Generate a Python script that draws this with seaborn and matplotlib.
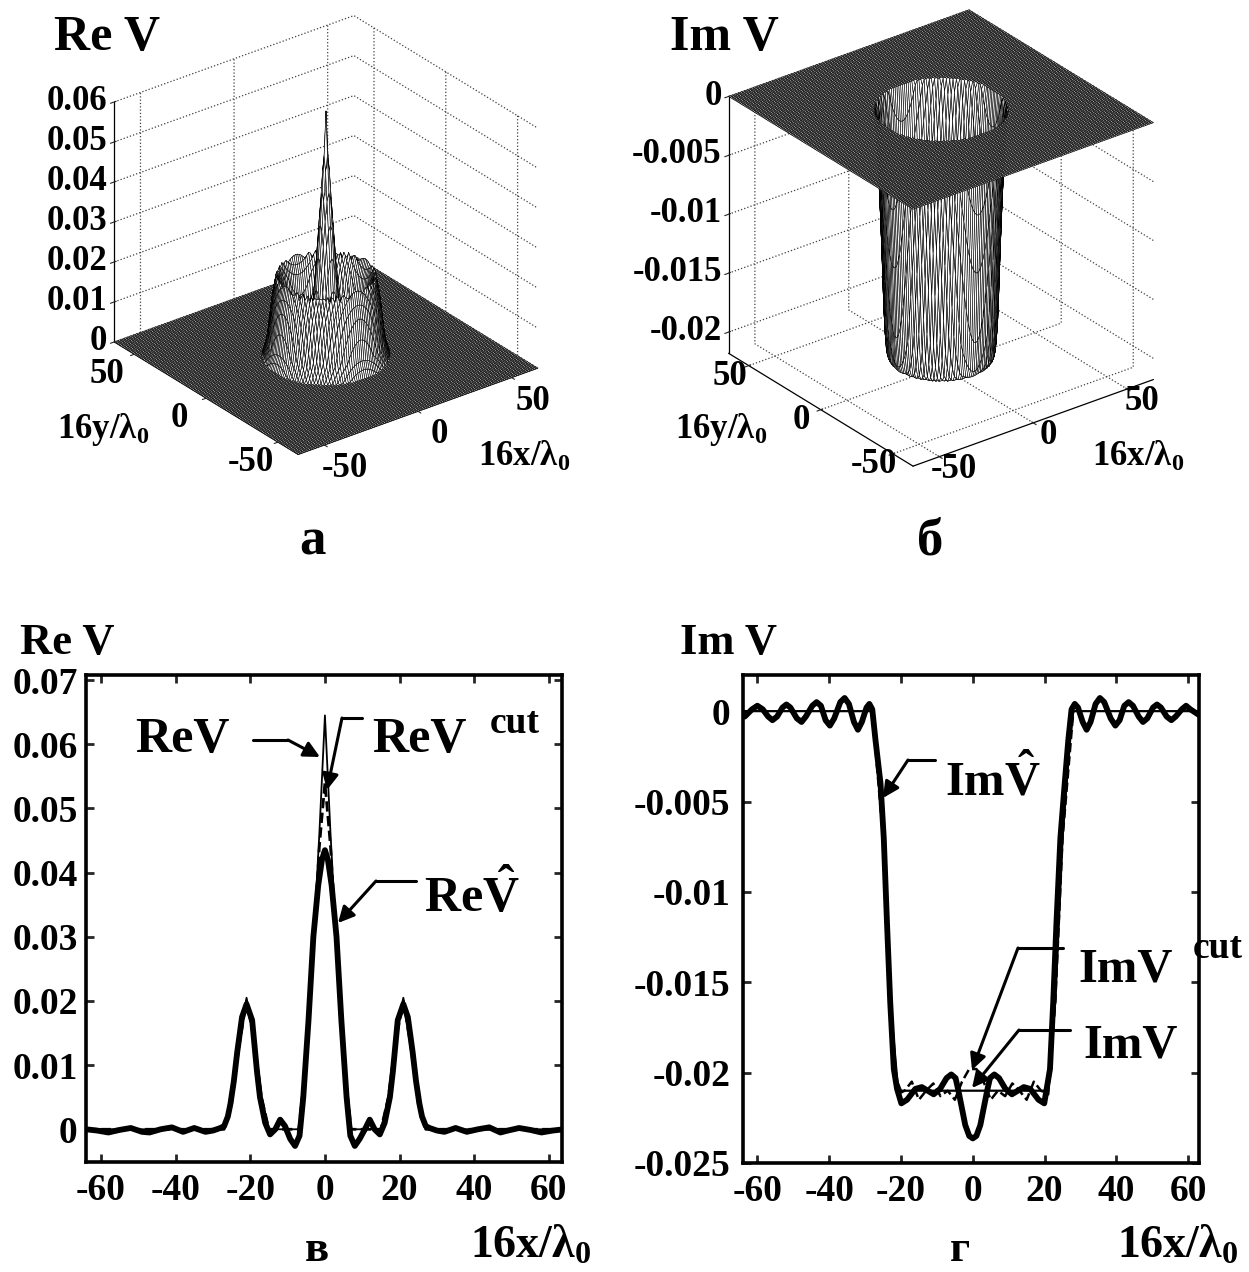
import numpy as np
import matplotlib
matplotlib.use("Agg")
import matplotlib.pyplot as plt
from matplotlib.lines import Line2D
from matplotlib.patches import FancyArrowPatch
import seaborn as sns

W, H = 1249, 1272

# --- curve data ---
re_hat_x = [-64, -61, -58, -55, -52, -49, -47, -44, -41, -38, -35, -32, -30, -28, -27, -26, -25.3, -24.4, -23.5, -22.2,
            -21, -19.5, -18.2, -17.4, -16, -14.7, -13.3, -12, -10.7, -9.3, -8, -6.8, -5.8, -4.4, -3.1, -1.8, -0.8, 0,
            0.8, 1.8, 3.1, 4.4, 5.8, 6.8, 8, 9.3, 10.7, 12, 13.3, 14.7, 16, 17.4, 18.2, 19.5,
            21, 22.2, 23.5, 24.4, 25.3, 26, 27, 28, 30, 32, 35, 38, 41, 44, 47, 49, 52, 55, 58, 61, 64]
re_hat_y = [0.0, -0.0002, -0.0005, -0.0001, 0.0002, -0.0004, -0.0005, 0.0, 0.0003, -0.0004, 0.0002, -0.0004, -0.0002,
            0.0002, 0.0005, 0.002, 0.004, 0.0075, 0.012, 0.0175,
            0.0195, 0.017, 0.009, 0.005, 0.001, -0.0008, 0.0, 0.0015, 0.0005, -0.0015, -0.0026, -0.001, 0.005, 0.017,
            0.03, 0.038, 0.042, 0.0435,
            0.042, 0.038, 0.03, 0.017, 0.005, -0.001, -0.0026, -0.0015, 0.0, 0.0015, 0.0, -0.0008, 0.001, 0.005, 0.009,
            0.017, 0.0195, 0.0175, 0.012, 0.0075, 0.004, 0.002, 0.0005, 0.0002, -0.0002, -0.0004, 0.0002, -0.0004, 0.0,
            0.0003, -0.0005, -0.0002, 0.0002, -0.0001, -0.0005, -0.0002, 0.0]

re_thin_x = [-64, -27, -25, -23, -21, -19, -17, -15, -7, -5, -3, -1.5, 0, 1.5, 3, 5, 7, 15, 17, 19, 21, 23, 25, 27, 64]
re_thin_y = [0, 0, 0.004, 0.014, 0.0205, 0.015, 0.005, 0, 0, 0.012, 0.03, 0.046, 0.0645,
             0.046, 0.03, 0.012, 0, 0, 0.005, 0.015, 0.0205, 0.014, 0.004, 0, 0]

re_cut_x = [-64, -27, -25, -23, -21, -19, -17, -15, -7, -5, -3, -1.5, 0, 1.5, 3, 5, 7, 15, 17, 19, 21, 23, 25, 27, 64]
re_cut_y = [0, 0, 0.004, 0.013, 0.02, 0.014, 0.005, 0, 0, 0.011, 0.029, 0.044, 0.054,
            0.044, 0.029, 0.011, 0, 0, 0.005, 0.014, 0.02, 0.013, 0.004, 0, 0]

im_hat_x = [-63.5, -61.5, -60, -58.5, -57, -55.8, -54.5, -53, -51.9, -50.8, -49, -47.7, -46.5, -44.7, -43.5, -42.3,
            -41, -39.8, -38.6, -36.9, -35.7, -34.5, -33.1, -32, -30.9, -29.6, -28.8, -28, -27.1, -25.7, -24.8, -23.9,
            -23, -22, -21.1, -19.9, -18.3, -16, -14.2, -10.9, -9.1, -7.3, -6, -4.8, -4, -2.1, -1, 0,
            1, 2.1, 4, 4.8, 6, 7.3, 9.1, 10.9, 14.2, 16, 18.3, 19.9, 21.5, 22.4, 23.3, 24.4, 25.6, 26.6,
            27.5, 28.4, 29.3, 30.6, 31.7, 32.8, 34.2, 35.4, 36.6, 38.4, 39.7, 40.9, 42.2, 43.4, 44.6, 46.2, 47.4, 48.6,
            50.2, 51.3, 52.4, 54, 55.3, 56.5, 58.2, 59.4, 60.6, 62.9]
im_hat_y = [-0.0003, 0.0001, 0.0003, 0.0001, -0.0003, -0.0005, -0.0003, 0.0002, 0.00037, 0.0002, -0.0004, -0.0006,
            -0.0003, 0.0003, 0.0005, 0.0003, -0.0005, -0.0008, -0.0004, 0.0005, 0.00073, 0.0004, -0.0006, -0.00103,
            -0.0006, 0.0002, 0.0004, 0.0001, -0.0016, -0.004, -0.007, -0.0117, -0.0161, -0.0198, -0.0209, -0.0217,
            -0.0215, -0.0209, -0.0208, -0.0212, -0.0209, -0.0203, -0.0201, -0.0203, -0.021, -0.0229, -0.0235, -0.02364,
            -0.0235, -0.0229, -0.021, -0.0203, -0.0201, -0.0203, -0.0209, -0.0212, -0.0208, -0.0209, -0.0215, -0.0217,
            -0.0198, -0.0161, -0.0117, -0.007, -0.004, -0.0016, 0.0001, 0.0004, 0.0002, -0.0006, -0.00103, -0.0006,
            0.0004, 0.00073, 0.0005, -0.0004, -0.0008, -0.0005, 0.0003, 0.0005, 0.0003, -0.0003, -0.0006, -0.0004,
            0.0002, 0.00037, 0.0002, -0.0003, -0.0005, -0.0003, 0.0001, 0.0003, 0.0001, -0.0002]

im_thin_x = [-64, -28, -27, -25, -23, -21, -20, 20, 21, 23, 25, 27, 28, 64]
im_thin_y = [0, 0, -0.0016, -0.007, -0.016, -0.0205, -0.021, -0.021, -0.0205, -0.016, -0.007, -0.0016, 0, 0]

im_cut_x = [-28, -25, -23, -21, -19, -17, -15, -13, -11, -9, -7, -5, -3, -1, 1, 3, 5, 7, 9, 11, 13, 15, 17, 19, 21,
            23, 25, 28]
im_cut_y = [0, -0.007, -0.016, -0.0212, -0.021, -0.0205, -0.0215, -0.021, -0.0206, -0.0213, -0.021, -0.0215, -0.0205,
            -0.0198, -0.0198, -0.0205, -0.0215, -0.021, -0.0213, -0.0206, -0.021, -0.0215, -0.0205, -0.021, -0.0212,
            -0.016, -0.007, 0]

# radial profiles of the two surfaces
re_radial_r = [0, 1, 2, 3, 4, 5, 7, 8, 15, 17, 19, 21, 23, 25, 27, 64]
re_radial_z = [0.061, 0.05, 0.041, 0.033, 0.025, 0.017, 0.003, 0, 0, 0.006, 0.016, 0.0205, 0.014, 0.004, 0, 0]
im_radial_r = [0, 22, 23, 24, 25, 26, 27, 28, 64]
im_radial_z = [-0.021, -0.021, -0.0205, -0.018, -0.012, -0.007, -0.003, 0, 0]

x_ticks_2d = [-60, -40, -20, 0, 20, 40, 60]
re_ticks = [0, 0.01, 0.02, 0.03, 0.04, 0.05, 0.06, 0.07]
im_ticks = [0, -0.005, -0.01, -0.015, -0.02, -0.025]
re_tick_labels = ["0", "0.01", "0.02", "0.03", "0.04", "0.05", "0.06", "0.07"]
im_tick_labels = ["0", "-0.005", "-0.01", "-0.015", "-0.02", "-0.025"]
re_z_ticks = [0, 0.01, 0.02, 0.03, 0.04, 0.05, 0.06]
re_z_labels = ["0", "0.01", "0.02", "0.03", "0.04", "0.05", "0.06"]
im_z_ticks = [0, -0.005, -0.01, -0.015, -0.02]
im_z_labels = ["0", "-0.005", "-0.01", "-0.015", "-0.02"]

sns.set_style("white")
plt.rcParams["font.family"] = ["Liberation Serif", "DejaVu Serif"]
plt.rcParams["font.weight"] = "bold"
plt.rcParams["axes.unicode_minus"] = False
plt.rcParams["mathtext.fontset"] = "custom"
plt.rcParams["mathtext.rm"] = "Liberation Serif:bold"
plt.rcParams["mathtext.default"] = "rm"
plt.rcParams["xtick.labelcolor"] = "k"
plt.rcParams["ytick.labelcolor"] = "k"
plt.rcParams["lines.solid_joinstyle"] = "round"

fig = plt.figure(figsize=(W / 100, H / 100), dpi=100)


def px(x, y):
    return x / W, 1 - y / H


def label(x, y, s, size, ha="left"):
    # x, y are the pixel position of the text baseline
    fig.text(*px(x, y), s, fontsize=size, ha=ha, va="baseline", color="k")


def arrow(p0, p1, p2):
    fig.add_artist(Line2D([p0[0] / W, p1[0] / W], [1 - p0[1] / H, 1 - p1[1] / H], color="k", lw=2.2))
    fig.add_artist(FancyArrowPatch(px(*p1), px(*p2), transform=fig.transFigure, arrowstyle="-|>", mutation_scale=24,
                                   color="k", lw=2.2, shrinkA=0, shrinkB=0))


def axes_2d(left, right, top, bottom, y_pad):
    ax = fig.add_axes([left / W, 1 - bottom / H, (right - left) / W, (bottom - top) / H])
    for s in ax.spines.values():
        s.set_visible(True)
        s.set_linewidth(2.6)
        s.set_color("k")
    ax.tick_params(direction="in", top=True, right=True, left=True, bottom=True, length=6, width=2, labelsize=27)
    ax.tick_params(axis="x", pad=8)
    ax.tick_params(axis="y", pad=y_pad)
    ax.set_xticks(x_ticks_2d)
    return ax


def surface_3d(cx, cy, side, ratio, zlim, radial_r, radial_z, zticks, zlabels, xy_pad):
    # cx, cy: pixel position of the centre of the plot box
    aspect = np.array([1, 1, ratio])
    world = 1.8294640721620434 * 25 / 24 / np.linalg.norm(aspect)
    size = side * 1.85 / world
    left = cx - 0.95 / 1.85 * size
    bottom = cy + 0.95 / 1.85 * size
    ax = fig.add_axes([left / W, 1 - bottom / H, size / W, size / H], projection="3d")
    ax.patch.set_alpha(0)
    ax.set_proj_type("ortho")
    ax.view_init(elev=28, azim=-127.5)
    ax.set_box_aspect(aspect)

    grid = np.arange(-64, 65, 1.0)
    xx, yy = np.meshgrid(grid, grid)
    zz = np.interp(np.hypot(xx, yy), radial_r, radial_z)
    ax.plot_surface(xx, yy, zz, rstride=1, cstride=1, color="white", edgecolor="k", linewidth=0.42, shade=False,
                    antialiased=True)

    ax.set_xlim(-64, 64)
    ax.set_ylim(-64, 64)
    ax.set_zlim(*zlim)
    ax.set_xticks([-50, 0, 50])
    ax.set_yticks([-50, 0, 50])
    ax.set_zticks(zticks)
    ax.set_zticklabels(zlabels)
    ax.tick_params(labelsize=25)
    ax.tick_params(axis="x", pad=xy_pad)
    ax.tick_params(axis="y", pad=xy_pad)
    ax.tick_params(axis="z", pad=-5)
    for t in ax.xaxis.get_major_ticks() + ax.yaxis.get_major_ticks():
        t.label1.set_va("bottom")
    for t in ax.zaxis.get_major_ticks():
        t.label1.set_va("center")
        t.label1.set_ha("right")
    for axis in (ax.xaxis, ax.yaxis, ax.zaxis):
        axis.set_pane_color((1, 1, 1, 0))
        axis.pane.set_edgecolor("none")
        axis._axinfo["grid"].update(color="0.25", linestyle=":", linewidth=0.9)
        axis.line.set_color("k")
        axis.line.set_linewidth(0.9)
    return ax


# --- top panels ---
surface_3d(326, 235, 302, 0.90, (0, 0.06), re_radial_r, re_radial_z, re_z_ticks, re_z_labels, 13)
surface_3d(941, 238, 303, 0.96, (-0.0218, 0), im_radial_r, im_radial_z, im_z_ticks, im_z_labels, 7)

# --- bottom left ---
ax = axes_2d(86, 562, 675, 1162, 6)
sns.lineplot(x=re_thin_x, y=re_thin_y, ax=ax, color="k", linewidth=1.3, errorbar=None)
sns.lineplot(x=re_cut_x, y=re_cut_y, ax=ax, color="k", linewidth=2.0, linestyle="--", errorbar=None)
sns.lineplot(x=re_hat_x, y=re_hat_y, ax=ax, color="k", linewidth=4.2, errorbar=None)
ax.set_xlim(-64, 63.5)
ax.set_ylim(-0.0051, 0.0708)
ax.set_yticks(re_ticks)
ax.set_yticklabels(re_tick_labels)

# --- bottom right ---
ax = axes_2d(743, 1199, 675, 1163, 9)
sns.lineplot(x=im_thin_x, y=im_thin_y, ax=ax, color="k", linewidth=1.6, errorbar=None)
sns.lineplot(x=im_cut_x, y=im_cut_y, ax=ax, color="k", linewidth=1.8, linestyle="--", errorbar=None)
sns.lineplot(x=im_hat_x, y=im_hat_y, ax=ax, color="k", linewidth=4.2, errorbar=None)
ax.set_xlim(-64, 63)
ax.set_ylim(-0.025, 0.002)
ax.set_yticks(im_ticks)
ax.set_yticklabels(im_tick_labels)

# --- text ---
label(54, 50, "Re V", 36)
label(670, 50, "Im V", 36)
label(57, 438, "16y/λ$_0$", 25)
label(478, 466, "16x/λ$_0$", 25)
label(675, 438, "16y/λ$_0$", 25)
label(1092, 466, "16x/λ$_0$", 25)
label(312, 554, "а", 38, ha="center")
label(930, 554, "б", 38, ha="center")
label(20, 654, "Re V", 32)
label(680, 654, "Im V", 32)
label(317, 1261, "в", 32, ha="center")
label(960, 1261, "г", 32, ha="center")
label(470, 1258, "16x/λ$_0$", 33)
label(1117, 1258, "16x/λ$_0$", 33)

label(135, 752, "ReV", 36)
label(372, 752, "ReV", 36)
label(490, 733, "cut", 27)
label(424, 912, r"Re$\hat{V}$", 36)
label(945, 795, r"Im$\hat{V}$", 35)
label(1078, 982, "ImV", 35)
label(1193, 958, "cut", 27)
label(1083, 1057, "ImV", 35)

arrow((253, 740), (288, 740), (320, 757))
arrow((362, 718), (342, 718), (327, 790))
arrow((416, 881), (376, 881), (338, 923))
arrow((935, 760), (908, 760), (883, 798))
arrow((1063, 948), (1018, 948), (972, 1070))
arrow((1070, 1030), (1019, 1030), (972, 1088))

fig.savefig("out.png", dpi=100)
